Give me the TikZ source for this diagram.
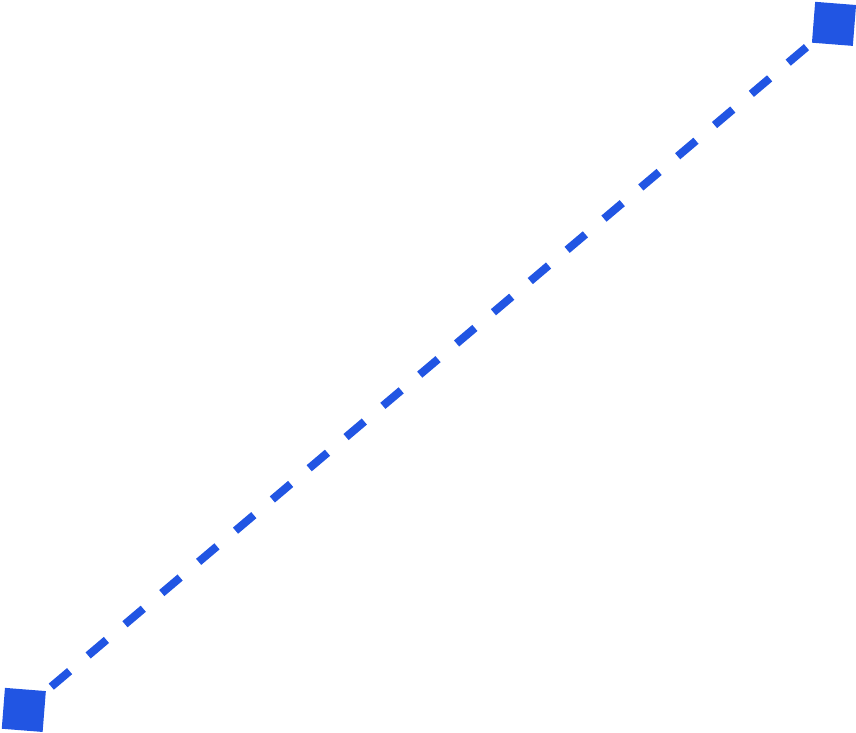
\documentclass[tikz,border=0pt]{standalone}
\definecolor{lineblue}{HTML}{2155E3}
\tikzset{
  sqmark/.style={fill=lineblue, draw=none, minimum size=41pt, inner sep=0pt, outer sep=0pt, rotate=-4.5},
  dashlink/.style={draw=lineblue, line width=8pt, line cap=butt, dash pattern=on 24pt off 24.28pt, shorten <=36pt, shorten >=36pt}
}
\begin{document}
\begin{tikzpicture}[x=1pt,y=1pt]
\useasboundingbox (0,0) rectangle (856,-732);
\node[sqmark] (a) at (23.8,-709.9) {};
\node[sqmark] (b) at (834,-23.85) {};
\draw[dashlink] (a.center) -- (b.center);
\end{tikzpicture}
\end{document}
